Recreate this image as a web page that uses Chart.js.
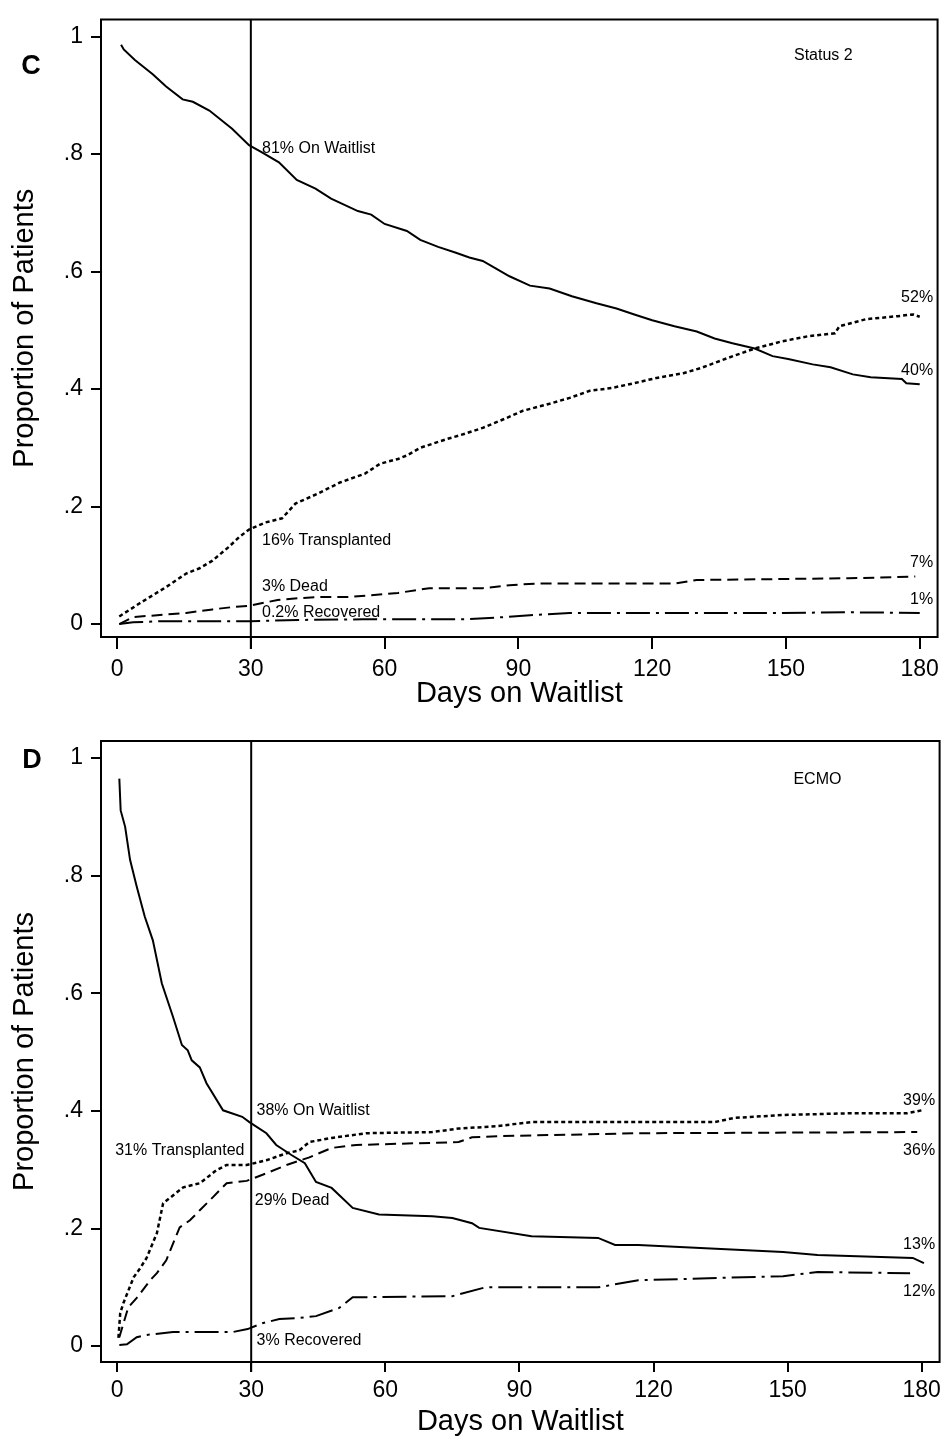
<!DOCTYPE html>
<html>
<head>
<meta charset="utf-8">
<script src="https://cdn.jsdelivr.net/npm/chart.js@4.4.1/dist/chart.umd.min.js"></script>
<style>
  body { margin: 0; background: #fff; }
  canvas { display: block; }
</style>
</head>
<body>
<canvas id="chartC" width="948" height="718"></canvas>
<canvas id="chartD" width="948" height="719"></canvas>
<script>
// Waitlist outcomes, status 2 vs ECMO

const xTicks = [0, 30, 60, 90, 120, 150, 180];
const xTickLabels = ['0', '30', '60', '90', '120', '150', '180'];
const yTicks = [0, 0.2, 0.4, 0.6, 0.8, 1];
const yTickLabels = ['0', '.2', '.4', '.6', '.8', '1'];
const cutDay = 30;

// panel C (Status 2): [day, proportion]
const cWaitlist = [[0.9,.986],[1.5,.978],[4,.96],[8,.936],[11,.915],[14.7,.893],[17,.889],[20.7,.874],[25.8,.843],[29.6,.815],[32.5,.803],[36.3,.786],[40.3,.756],[44.5,.741],[48,.724],[54,.703],[57,.697],[60,.681],[65,.669],[68,.654],[72,.642],[76,.632],[79,.624],[82,.618],[85,.605],[88,.592],[92.6,.576],[97,.571],[102,.558],[107.5,.546],[112,.537],[116,.527],[120,.517],[125,.507],[130,.498],[134,.486],[138,.478],[143,.469],[147,.456],[150.5,.451],[156,.442],[160,.437],[165,.425],[169,.42],[176,.417],[177,.41],[180,.408]];
const cTransplanted = [[0.5,.013],[5,.035],[11,.063],[15.5,.086],[18.5,.095],[21.4,.108],[25,.131],[27.4,.148],[29.6,.161],[33.3,.173],[37,.18],[40,.205],[45,.222],[50,.241],[55.6,.256],[59,.273],[63,.281],[65,.287],[68,.30],[74,.315],[78,.324],[82,.334],[86.8,.349],[91,.363],[97,.375],[101.5,.385],[106,.397],[111,.402],[116,.41],[121,.419],[127,.427],[131,.436],[137,.453],[143,.469],[149,.481],[155,.49],[161,.495],[162,.507],[168,.519],[175,.524],[178.5,.527],[180,.523]];
const cDead = [[0.5,0],[3.6,.012],[9,.015],[15.5,.019],[21.4,.025],[26,.029],[29.6,.031],[36,.041],[40.7,.044],[45,.046],[52,.046],[63,.053],[70,.061],[82,.061],[88,.066],[94,.069],[116,.069],[125,.069],[130,.075],[164,.078],[175,.08],[179,.081]];
const cRecovered = [[0.5,0],[3.6,.003],[10,.005],[30,.005],[40.7,.007],[55,.008],[78,.008],[87,.012],[92.6,.015],[101.5,.019],[116,.019],[149,.019],[164,.02],[180,.019]];

// panel D (ECMO)
const dWaitlist = [[0.5,.965],[0.8,.911],[1.8,.883],[2.9,.827],[4.4,.781],[6.2,.73],[8,.69],[10,.617],[12.5,.56],[14.5,.512],[15.8,.503],[16.7,.486],[18.5,.474],[20,.447],[23.7,.401],[28,.39],[29.6,.381],[33.4,.362],[35.6,.342],[39,.325],[42,.311],[44.5,.279],[48,.269],[52.7,.235],[58.6,.224],[70.5,.221],[75,.218],[79.4,.209],[81,.201],[92.7,.187],[107.6,.184],[111.4,.172],[116.6,.172],[149,.16],[156.7,.155],[178,.15],[180.5,.141]];
const dTransplanted = [[0.3,.014],[0.7,.056],[1.4,.073],[3.7,.117],[5.2,.133],[6.6,.15],[8.9,.192],[10.3,.243],[11.8,.252],[14.8,.27],[18.5,.277],[22.2,.299],[24.5,.308],[29,.308],[33.4,.316],[37.9,.328],[40.8,.333],[43,.347],[48,.354],[55.7,.362],[70.5,.364],[76.4,.37],[85,.374],[92.7,.381],[116.6,.381],[133.7,.381],[138,.388],[149,.393],[164,.396],[176.7,.396],[180,.401]];
const dDead = [[0.5,.015],[2.5,.066],[4.4,.082],[7.4,.112],[8.9,.124],[11,.146],[14,.202],[16.3,.214],[18.5,.231],[21.4,.253],[24.5,.277],[29,.281],[33.4,.294],[37.9,.308],[43,.321],[48,.337],[53.5,.342],[76.4,.347],[79.4,.355],[85,.357],[116.6,.362],[179,.364]];
const dRecovered = [[0.5,.002],[2.2,.003],[4.4,.015],[6.6,.019],[12.5,.024],[25.9,.024],[29.2,.029],[32.5,.039],[36.3,.046],[40.8,.048],[44.5,.051],[49.7,.065],[52.7,.083],[75,.085],[82.4,.1],[107.6,.1],[116.6,.112],[149,.119],[156.7,.126],[177.4,.124]];

// annotations: [text, day, proportion, align]
const cNotes = [
  ['81% On Waitlist', 32.5, .81, 'left'],
  ['16% Transplanted', 32.5, .142, 'left'],
  ['3% Dead', 32.5, .063, 'left'],
  ['0.2% Recovered', 32.5, .02, 'left'],
  ['52%', 183, .556, 'right'],
  ['40%', 183, .432, 'right'],
  ['7%', 183, .105, 'right'],
  ['1%', 183, .042, 'right'],
  ['Status 2', 151.8, .968, 'left']
];
const dNotes = [
  ['38% On Waitlist', 31.2, .401, 'left'],
  ['31% Transplanted', 28.5, .332, 'right'],
  ['29% Dead', 30.8, .248, 'left'],
  ['3% Recovered', 31.2, .010, 'left'],
  ['39%', 183, .418, 'right'],
  ['36%', 183, .333, 'right'],
  ['13%', 183, .172, 'right'],
  ['12%', 183, .092, 'right'],
  ['ECMO', 151.3, .963, 'left']
];

const FONT = '"Liberation Sans", Arial, sans-serif';

// solid, short dash, long dash, dash-dot
const lineStyles = [
  { borderDash: [], borderWidth: 2 },
  { borderDash: [4, 3], borderWidth: 2.5 },
  { borderDash: [11, 6], borderWidth: 2 },
  { borderDash: [24, 6, 3, 6], borderWidth: 2 }
];

const panelDecor = {
  id: 'panelDecor',
  afterDatasetsDraw(chart, args, opts) {
    const { ctx, chartArea: a, scales: { x, y } } = chart;
    ctx.save();
    ctx.strokeStyle = '#000';
    ctx.lineWidth = 2;
    ctx.strokeRect(a.left, a.top, a.right - a.left, a.bottom - a.top);
    // 30 day marker
    const cx = x.getPixelForValue(cutDay);
    ctx.beginPath();
    ctx.moveTo(cx, a.top);
    ctx.lineTo(cx, a.bottom + opts.tick);
    ctx.stroke();
    ctx.fillStyle = '#000';
    ctx.font = '16px ' + FONT;
    ctx.textBaseline = 'middle';
    opts.notes.forEach(([t, d, v, al]) => {
      ctx.textAlign = al;
      ctx.fillText(t, x.getPixelForValue(d), y.getPixelForValue(v));
    });
    ctx.font = 'bold 27px ' + FONT;
    ctx.textAlign = 'center';
    ctx.fillText(opts.letter, opts.letterX, opts.letterY);
    ctx.restore();
  }
};

function makePanel(id, series, notes, letter, p) {
  const datasets = series.map((s, i) => ({
    data: s.map(([d, v]) => ({ x: d, y: v })),
    borderColor: '#000',
    borderWidth: lineStyles[i].borderWidth,
    borderDash: lineStyles[i].borderDash,
    pointRadius: 0,
    tension: 0,
    fill: false
  }));

  return new Chart(document.getElementById(id), {
    type: 'line',
    data: { datasets },
    plugins: [panelDecor],
    options: {
      responsive: false,
      animation: false,
      events: [],
      layout: { padding: { top: p.top, right: p.right, left: 0, bottom: 0 } },
      plugins: {
        legend: { display: false },
        tooltip: { enabled: false },
        panelDecor: { notes, letter, letterX: p.letterX, letterY: p.letterY, tick: p.xTick }
      },
      scales: {
        x: {
          type: 'linear',
          min: -3.6,
          max: 184,
          afterBuildTicks: s => { s.ticks = xTicks.map(v => ({ value: v })); },
          afterFit: s => { s.height = p.xHeight; },
          border: { display: false },
          grid: { drawOnChartArea: false, drawTicks: true, tickLength: p.xTick, color: '#000', lineWidth: 2 },
          ticks: {
            color: '#000',
            padding: p.xPad,
            maxRotation: 0,
            font: { family: FONT, size: 23, lineHeight: 1 },
            callback: (v, i) => xTickLabels[i]
          },
          title: {
            display: true,
            text: 'Days on Waitlist',
            color: '#000',
            font: { family: FONT, size: 29, lineHeight: 1 },
            padding: { top: 0, bottom: p.titlePad }
          }
        },
        y: {
          min: p.yMin,
          max: 1.029,
          afterBuildTicks: s => { s.ticks = yTicks.map(v => ({ value: v })); },
          afterFit: s => { s.width = 101; },
          border: { display: false },
          grid: { drawOnChartArea: false, drawTicks: true, tickLength: 10, color: '#000', lineWidth: 2 },
          ticks: {
            color: '#000',
            padding: 8,
            font: { family: FONT, size: 23, lineHeight: 1 },
            callback: (v, i) => yTickLabels[i]
          },
          title: {
            display: true,
            text: 'Proportion of Patients',
            color: '#000',
            font: { family: FONT, size: 29, lineHeight: 1 },
            padding: { top: 10, bottom: 0 }
          }
        }
      }
    }
  });
}

makePanel('chartC', [cWaitlist, cTransplanted, cDead, cRecovered], cNotes, 'C',
  { top: 17, right: 4, xHeight: 81, xTick: 12, xPad: 9, titlePad: 9.5, yMin: -0.022, letterX: 31, letterY: 67 });
makePanel('chartD', [dWaitlist, dTransplanted, dDead, dRecovered], dNotes, 'D',
  { top: 23, right: 5, xHeight: 75, xTick: 10, xPad: 7, titlePad: 0.5, yMin: -0.027, letterX: 32, letterY: 43 });
</script>
</body>
</html>
